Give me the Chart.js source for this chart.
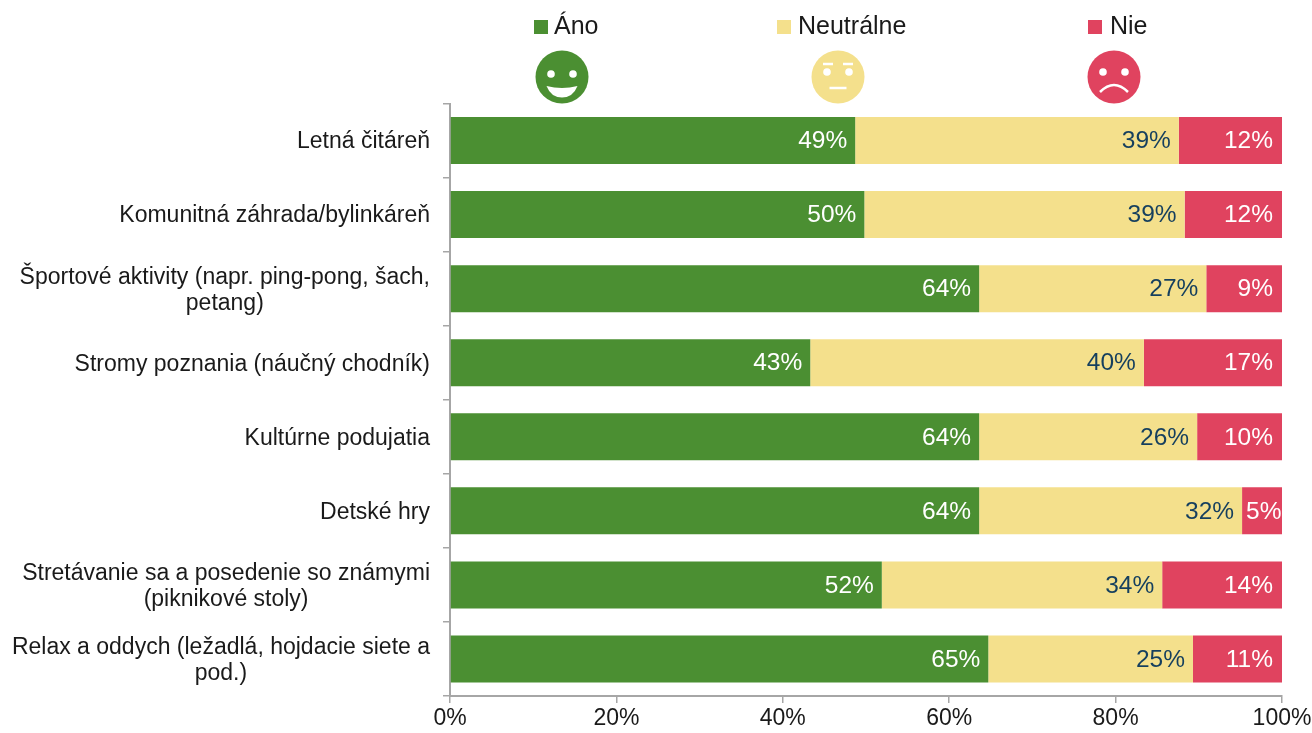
<!DOCTYPE html>
<html><head><meta charset="utf-8">
<style>html,body{margin:0;padding:0;background:#fff}canvas{display:block}</style>
<script src="https://cdn.jsdelivr.net/npm/chart.js@4"></script></head>
<body><div style="width:1312px;height:733px"><canvas id="c"></canvas></div>
<script>
const categories = [
  ["Letná čitáreň"],
  ["Komunitná záhrada/bylinkáreň"],
  ["Športové aktivity (napr. ping-pong, šach,","petang)"],
  ["Stromy poznania (náučný chodník)"],
  ["Kultúrne podujatia"],
  ["Detské hry"],
  ["Stretávanie sa a posedenie so známymi","(piknikové stoly)"],
  ["Relax a oddych (ležadlá, hojdacie siete a","pod.)"]
];
const ano = [48.7,49.8,63.6,43.3,63.6,63.6,51.9,64.7];
const neutralne = [38.9,38.5,27.3,40.1,26.2,31.6,33.7,24.6];
const nie = [12.4,11.7,9.1,16.6,10.2,4.8,14.4,10.7];
const GREEN='#4B8F32', YELLOW='#F4E08C', RED='#E0435F', NAVY='#153F5E', AXIS='#A6A6A6', TEXT='#1a1a1a';
const FONT='"Liberation Sans", Arial, sans-serif';

const custom = {
  id:'custom',
  afterDraw(chart){
    const ctx=chart.ctx, y=chart.scales.y;
    ctx.save();
    ctx.font='23px '+FONT; ctx.fillStyle=TEXT; ctx.textAlign='center'; ctx.textBaseline='middle';
    categories.forEach((lines,i)=>{
      const cy=y.getPixelForTick(i)+1.5;
      const w=Math.max(...lines.map(l=>ctx.measureText(l).width));
      const cx=y.right-20-w/2;
      lines.forEach((l,k)=>ctx.fillText(l,cx,cy+(k-(lines.length-1)/2)*26));
    });
    ctx.font='24.5px '+FONT; ctx.textAlign='right';
    chart.data.datasets.forEach((ds,d)=>{
      const meta=chart.getDatasetMeta(d);
      ctx.fillStyle=d===1?NAVY:'#fff';
      meta.data.forEach((b,i)=>{
        const t=Math.round(ds.data[i])+'%';
        const minRight=b.base+4+ctx.measureText(t).width;
        ctx.fillText(t,Math.max(b.x-(d===2?9:8),minRight),b.y+1);
      });
    });
    const leg=[[534,554],[777,798],[1088,1110]];
    ctx.font='25px '+FONT; ctx.textAlign='left';
    chart.data.datasets.forEach((ds,d)=>{
      ctx.fillStyle=ds.backgroundColor; ctx.fillRect(leg[d][0],20,14,14);
      ctx.fillStyle=TEXT; ctx.fillText(ds.label,leg[d][1],27);
    });
    const faces=[[562,GREEN],[838,YELLOW],[1114,RED]], cy=77, r=26.5;
    faces.forEach(([cx,col],f)=>{
      ctx.fillStyle=col; ctx.beginPath(); ctx.arc(cx,cy,r,0,Math.PI*2); ctx.fill();
      ctx.fillStyle='#fff'; ctx.strokeStyle='#fff'; ctx.lineCap='butt';
      const ey=f===0?-3:-5;
      [-11,11].forEach(dx=>{ctx.beginPath();ctx.arc(cx+dx,cy+ey,3.8,0,Math.PI*2);ctx.fill();});
      if(f===0){
        ctx.beginPath(); ctx.moveTo(cx-15.5,cy+9); ctx.quadraticCurveTo(cx,cy+13,cx+15.5,cy+9);
        ctx.quadraticCurveTo(cx+11,cy+20.5,cx,cy+20.5); ctx.quadraticCurveTo(cx-11,cy+20.5,cx-15.5,cy+9); ctx.fill();
      } else if(f===1){
        ctx.lineWidth=2.5;
        [-10,10].forEach(dx=>{ctx.beginPath();ctx.moveTo(cx+dx-5,cy-13);ctx.lineTo(cx+dx+5,cy-13);ctx.stroke();});
        ctx.beginPath();ctx.moveTo(cx-8.5,cy+11);ctx.lineTo(cx+8.5,cy+11);ctx.stroke();
      } else {
        ctx.lineWidth=2.5;
        ctx.beginPath();ctx.moveTo(cx-14,cy+15);ctx.quadraticCurveTo(cx,cy+1,cx+14,cy+15);ctx.stroke();
      }
    });
    ctx.restore();
  }
};

new Chart(document.getElementById('c'),{
  type:'bar',
  data:{
    labels:categories,
    datasets:[
      {label:'Áno',data:ano,backgroundColor:GREEN},
      {label:'Neutrálne',data:neutralne,backgroundColor:YELLOW},
      {label:'Nie',data:nie,backgroundColor:RED}
    ]
  },
  options:{
    indexAxis:'y',responsive:true,maintainAspectRatio:false,animation:false,
    layout:{padding:{top:103.5,right:30,left:0,bottom:0}},
    datasets:{bar:{barPercentage:0.635,categoryPercentage:1,borderWidth:0}},
    plugins:{legend:{display:false},tooltip:{enabled:false}},
    scales:{
      x:{stacked:true,min:0,max:100,
        afterFit(s){s.height=37;s.paddingRight=0;s.paddingLeft=0;},
        ticks:{stepSize:20,callback:v=>v+'%',color:TEXT,font:{size:23,family:FONT},padding:2,maxRotation:0},
        grid:{drawOnChartArea:false,color:AXIS,tickLength:7,lineWidth:1.5},
        border:{color:AXIS,width:2}},
      y:{stacked:true,
        afterFit(s){s.width=450;},
        ticks:{display:false},
        grid:{drawOnChartArea:false,color:AXIS,tickLength:7,offset:true,lineWidth:1.5},
        border:{color:AXIS,width:2}}
    }
  },
  plugins:[custom]
});
</script></body></html>
